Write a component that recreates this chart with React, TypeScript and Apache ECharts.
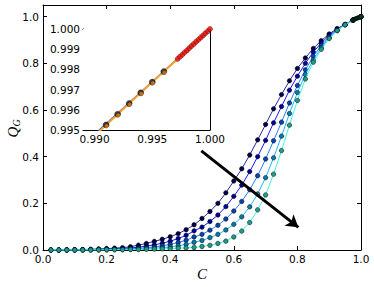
import React, { useEffect, useRef } from "react";
import * as echarts from "echarts";

// ---- main plot data ----
const cValues = [
  0.025, 0.05, 0.075, 0.1, 0.125, 0.15, 0.175, 0.2, 0.225, 0.25,
  0.275, 0.3, 0.325, 0.35, 0.375, 0.4, 0.425, 0.45, 0.475, 0.5,
  0.525, 0.55, 0.575, 0.6, 0.625, 0.65, 0.675, 0.7, 0.725, 0.75,
  0.775, 0.8, 0.825, 0.85, 0.875, 0.9, 0.925, 0.95, 0.975, 1.0,
];
const qNavy = [
  0.0, 0.0, 0.001, 0.001, 0.002, 0.003, 0.004, 0.006, 0.008, 0.01,
  0.014, 0.021, 0.028, 0.037, 0.046, 0.057, 0.07, 0.087, 0.108, 0.135,
  0.165, 0.2, 0.245, 0.296, 0.348, 0.407, 0.472, 0.538, 0.605, 0.666,
  0.725, 0.778, 0.823, 0.864, 0.897, 0.926, 0.949, 0.967, 0.985, 1.0,
];
const qBlue = [
  0.0, 0.0, 0.0, 0.001, 0.001, 0.002, 0.003, 0.004, 0.005, 0.006,
  0.009, 0.012, 0.017, 0.022, 0.029, 0.038, 0.049, 0.063, 0.082, 0.098,
  0.122, 0.15, 0.186, 0.23, 0.278, 0.336, 0.4, 0.47, 0.545, 0.615,
  0.685, 0.745, 0.8, 0.848, 0.887, 0.92, 0.946, 0.966, 0.985, 1.0,
];
const qAzure = [
  0.0, 0.0, 0.0, 0.0, 0.001, 0.001, 0.002, 0.002, 0.003, 0.004,
  0.005, 0.007, 0.01, 0.013, 0.018, 0.024, 0.032, 0.042, 0.056, 0.067,
  0.085, 0.106, 0.133, 0.167, 0.208, 0.258, 0.318, 0.39, 0.468, 0.548,
  0.63, 0.705, 0.772, 0.83, 0.876, 0.914, 0.943, 0.966, 0.985, 1.0,
];
const qSky = [
  0.0, 0.0, 0.0, 0.0, 0.0, 0.001, 0.001, 0.001, 0.002, 0.002,
  0.003, 0.004, 0.006, 0.008, 0.01, 0.013, 0.018, 0.024, 0.033, 0.041,
  0.053, 0.067, 0.086, 0.11, 0.142, 0.185, 0.24, 0.31, 0.395, 0.488,
  0.585, 0.675, 0.752, 0.815, 0.867, 0.91, 0.941, 0.965, 0.985, 1.0,
];
const qTurq = [
  0.0, 0.0, 0.0, 0.0, 0.0, 0.0, 0.0, 0.001, 0.001, 0.001,
  0.002, 0.002, 0.003, 0.004, 0.005, 0.006, 0.008, 0.009, 0.011, 0.015,
  0.02, 0.028, 0.038, 0.056, 0.081, 0.118, 0.172, 0.236, 0.325, 0.426,
  0.535, 0.641, 0.733, 0.805, 0.86, 0.906, 0.94, 0.965, 0.985, 1.0,
];
const denseX = [0.972, 0.974, 0.976, 0.978, 0.98, 0.982, 0.984, 0.986, 0.988, 0.99, 0.992, 0.994, 0.996, 0.998, 1.0];
const denseY = [0.9852, 0.9863, 0.9873, 0.9884, 0.9894, 0.9905, 0.9916, 0.9926, 0.9937, 0.9947, 0.9958, 0.9968, 0.9979, 0.9989, 1.0];

const mainXTicks = [0, 0.2, 0.4, 0.6, 0.8, 1.0];
const mainYTicks = [0, 0.2, 0.4, 0.6, 0.8, 1.0];

// ---- inset data ----
const insetX = [0.99, 0.991, 0.992, 0.993, 0.994, 0.995, 0.996];
const insetY = [0.99472, 0.99525, 0.99578, 0.99631, 0.99684, 0.99737, 0.99789];
const redX = [0.9972, 0.9974, 0.9976, 0.9978, 0.998, 0.9982, 0.9984, 0.9986, 0.9988, 0.999, 0.9992, 0.9994, 0.9996, 0.9998, 1.0];
const redY = [0.99852, 0.99863, 0.99873, 0.99884, 0.99894, 0.99905, 0.99916, 0.99926, 0.99937, 0.99947, 0.99958, 0.99968, 0.99979, 0.99989, 1.0];
const blueLineX = [0.99, 1.0];
const blueLineY = [0.99479, 1.0];
const cyanLineY = [0.99475, 1.0];
const insetXTicks = [0.99, 0.995, 1.0];
const insetYTicks = [0.995, 0.996, 0.997, 0.998, 0.999, 1.0];

const arrowFrom = [0.498, 0.425];
const arrowTo = [0.803, 0.097];

const seriesDefs = [
  { data: qNavy, line: "#2a2a9c", mark: "#00004d" },
  { data: qBlue, line: "#1a1aff", mark: "#00009a" },
  { data: qAzure, line: "#2d7dff", mark: "#0045b5" },
  { data: qSky, line: "#1ab8ff", mark: "#007aa8" },
  { data: qTurq, line: "#3ff5e0", mark: "#1e9e88" },
];

const FONT = "DejaVu Sans";
const zip = (xs: number[], ys: number[]) => xs.map((x, i) => [x, ys[i]]);

export default function App() {
  const ref = useRef<HTMLDivElement>(null);
  useEffect(() => {
    if (!ref.current) return;
    const chart = echarts.init(ref.current, null, { renderer: "svg" });
    const axisLine = { show: true, onZero: false, lineStyle: { color: "#000", width: 1 } };
    const label = (fmt: (v: number) => string, vals: number[], show = true, margin = 4) => ({
      show,
      customValues: vals,
      formatter: fmt,
      color: "#000",
      fontFamily: FONT,
      fontSize: 10.5,
      margin,
    });
    const tick = (vals: number[]) => ({
      show: true,
      inside: true,
      length: 4,
      customValues: vals,
      lineStyle: { color: "#000", width: 1 },
    });
    const f1 = (v: number) => v.toFixed(1);
    const f3 = (v: number) => v.toFixed(3);

    const xAxes = [
      { gridIndex: 0, type: "value", min: 0, max: 1, position: "bottom", axisLine, axisTick: tick(mainXTicks), axisLabel: label(f1, mainXTicks, true, 3), splitLine: { show: false } },
      { gridIndex: 0, type: "value", min: 0, max: 1, position: "top", axisLine, axisTick: tick(mainXTicks), axisLabel: label(f1, mainXTicks, false), splitLine: { show: false } },
      { gridIndex: 1, type: "value", min: 0.989, max: 1.0, position: "bottom", axisLine, axisTick: tick(insetXTicks), axisLabel: label(f3, insetXTicks, true, 3), splitLine: { show: false } },
      { gridIndex: 1, type: "value", min: 0.989, max: 1.0, position: "top", axisLine, axisTick: tick(insetXTicks), axisLabel: label(f3, insetXTicks, false), splitLine: { show: false } },
    ];
    const yAxes = [
      { gridIndex: 0, type: "value", min: 0, max: 1.05, position: "left", axisLine, axisTick: tick(mainYTicks), axisLabel: label(f1, mainYTicks, true, 4), splitLine: { show: false } },
      { gridIndex: 0, type: "value", min: 0, max: 1.05, position: "right", axisLine, axisTick: tick(mainYTicks), axisLabel: label(f1, mainYTicks, false), splitLine: { show: false } },
      { gridIndex: 1, type: "value", min: 0.995, max: 1.0, position: "left", axisLine, axisTick: tick(insetYTicks), axisLabel: label(f3, insetYTicks, true, 3), splitLine: { show: false } },
      { gridIndex: 1, type: "value", min: 0.995, max: 1.0, position: "right", axisLine, axisTick: tick(insetYTicks), axisLabel: label(f3, insetYTicks, false), splitLine: { show: false } },
    ];

    const mainSeries = seriesDefs.map((s, i) => ({
      type: "line",
      xAxisIndex: 0,
      yAxisIndex: 0,
      data: zip(cValues, s.data),
      showSymbol: true,
      symbol: "circle",
      symbolSize: 4.5,
      lineStyle: { color: s.line, width: 1 },
      itemStyle: { color: s.mark, borderColor: "#000", borderWidth: 0.5 },
      z: 2 + i,
      silent: true,
    }));

    const option = {
      animation: false,
      grid: [
        { left: 43, right: 13, top: 5, bottom: 37, show: false },
        { left: 83, top: 29, width: 127, height: 101, show: true, backgroundColor: "#fff", borderWidth: 0, z: 10 },
      ],
      xAxis: xAxes,
      yAxis: yAxes,
      series: [
        ...mainSeries,
        {
          type: "scatter",
          xAxisIndex: 0,
          yAxisIndex: 0,
          data: zip(denseX, denseY),
          symbolSize: 4,
          itemStyle: { color: "#0a3a30", borderColor: "#000", borderWidth: 0.5 },
          z: 8,
          silent: true,
          markLine: {
            silent: true,
            symbol: ["none", "arrow"],
            symbolSize: [11, 12],
            label: { show: false },
            lineStyle: { color: "#000", width: 3, type: "solid" },
            data: [[{ coord: arrowFrom }, { coord: arrowTo }]],
            z: 9,
          },
        },
        // inset
        {
          type: "line", xAxisIndex: 2, yAxisIndex: 2, data: zip(blueLineX, blueLineY),
          showSymbol: false, lineStyle: { color: "#1a1aff", width: 1.2 }, z: 20, silent: true,
        },
        {
          type: "line", xAxisIndex: 2, yAxisIndex: 2, data: zip(blueLineX, cyanLineY),
          showSymbol: false, lineStyle: { color: "#3fd0f0", width: 1.2 }, z: 21, silent: true,
        },
        {
          type: "line", xAxisIndex: 2, yAxisIndex: 2, data: zip([...insetX, ...redX], [...insetY, ...redY]),
          showSymbol: false, lineStyle: { color: "#ffa020", width: 2 }, z: 22, silent: true,
        },
        {
          type: "scatter", xAxisIndex: 2, yAxisIndex: 2, data: zip(insetX, insetY),
          symbolSize: 6, itemStyle: { color: "#111", borderColor: "#000", borderWidth: 0.5 }, z: 23, silent: true,
        },
        {
          type: "scatter", xAxisIndex: 2, yAxisIndex: 2, data: zip(insetX, insetY),
          symbolSize: 4, symbolOffset: [0.5, 1], itemStyle: { color: "#e07a10" }, z: 24, silent: true,
        },
        {
          type: "scatter", xAxisIndex: 2, yAxisIndex: 2, data: zip(redX, redY),
          symbolSize: 5, itemStyle: { color: "#e81010", borderColor: "#700000", borderWidth: 0.6 }, z: 25, silent: true,
        },
      ],
      graphic: [
        {
          type: "text",
          x: 202,
          y: 274,
          style: { text: "C", font: "italic 15px 'Liberation Serif'", fill: "#000", textAlign: "center", textVerticalAlign: "middle" },
        },
        {
          type: "group",
          x: 13,
          y: 128,
          rotation: Math.PI / 2,
          children: [
            { type: "text", x: -4, y: 0, style: { text: "Q", font: "italic 15px 'Liberation Serif'", fill: "#000", textAlign: "center", textVerticalAlign: "middle" } },
            { type: "text", x: 5, y: 3, style: { text: "G", font: "italic 10px 'Liberation Serif'", fill: "#000", textAlign: "center", textVerticalAlign: "middle" } },
          ],
        },
      ],
    };
    chart.setOption(option as any);
    return () => chart.dispose();
  }, []);
  return <div ref={ref} style={{ position: "fixed", left: 0, top: 0, width: 374, height: 287, background: "#fff" }} />;
}
